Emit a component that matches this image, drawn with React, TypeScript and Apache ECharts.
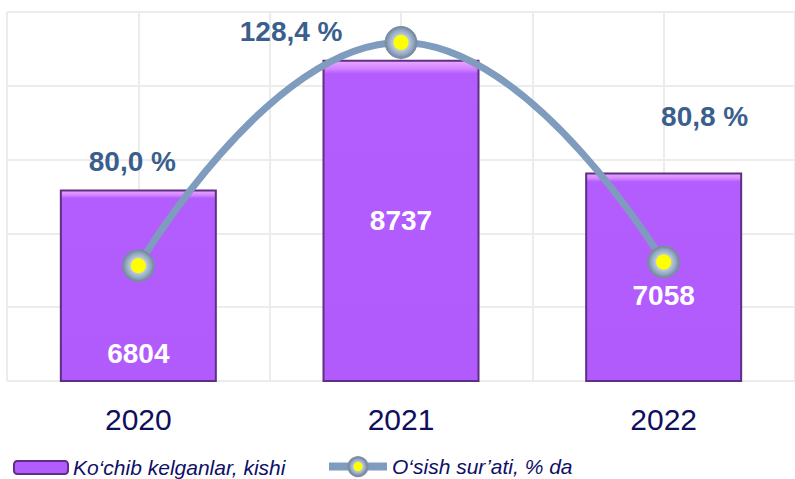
import React, { useEffect, useRef } from "react";
import * as echarts from "echarts";

const years = ["2020", "2021", "2022"];
const arrivals = [6804, 8737, 7058];
const growth = [80.0, 128.4, 80.8];
const barName = "Ko‘chib kelganlar, kishi";
const lineName = "O‘sish sur’ati, % da";

// label placement tweaks (not data)
const growthLabelLayout = [
  { position: "top", offset: [-6, -69] },
  { position: "left", offset: [-37, -11] },
  { position: "top", offset: [41, -110] },
];
const barLabelLayout = [
  { position: "insideBottom", offset: [0, -10] },
  { position: "inside", offset: [0, 0] },
  { position: "insideBottom", offset: [0, -68] },
];

const fmtPct = (v: number) => v.toFixed(1).replace(".", ",") + " %";

export default function App() {
  const ref = useRef<HTMLDivElement>(null);
  useEffect(() => {
    document.body.style.margin = "0";
    const chart = echarts.init(ref.current!, null, { renderer: "svg" });
    const font = "'Liberation Sans', Arial, sans-serif";
    const markerColor = new echarts.graphic.RadialGradient(0.5, 0.5, 0.5, [
      { offset: 0, color: "#ffff00" },
      { offset: 0.44, color: "#ffff00" },
      { offset: 0.5, color: "#b9c9dc" },
      { offset: 0.8, color: "#8ea3bd" },
      { offset: 1, color: "#6f829a" },
    ]);
    const barColor = new echarts.graphic.LinearGradient(0, 0, 0, 1, [
      { offset: 0, color: "#eaa8ff" },
      { offset: 0.025, color: "#d384ff" },
      { offset: 0.04, color: "#b35dff" },
      { offset: 1, color: "#b15bfd" },
    ]);
    const legendText = { fontSize: 21, fontStyle: "italic", color: "#0f0f66", fontFamily: font };
    chart.setOption({
      animation: false,
      backgroundColor: "#ffffff",
      textStyle: { fontFamily: font },
      grid: { left: 7, right: -4, top: 12, bottom: 98, containLabel: false },
      legend: [
        {
          left: 8,
          top: 452,
          itemWidth: 54,
          itemHeight: 13,
          textStyle: legendText,
          data: [barName],
        },
        {
          left: 320,
          top: 451,
          itemWidth: 58,
          itemHeight: 24,
          textStyle: legendText,
          lineStyle: { width: 8, color: "#7f9cbf" },
          data: [lineName],
        },
      ],
      xAxis: [
        {
          type: "category",
          data: years,
          axisLine: { show: false },
          axisTick: { show: false },
          splitLine: { show: false },
          axisLabel: { fontSize: 30, color: "#0f0f5e", margin: 23, fontFamily: font },
        },
        {
          type: "value",
          min: 0,
          max: 6,
          interval: 1,
          position: "top",
          axisLine: { show: false },
          axisTick: { show: false },
          axisLabel: { show: false },
          splitLine: { show: true, lineStyle: { color: "#ececec", width: 2 } },
        },
      ],
      yAxis: [
        { type: "value", min: 3950, max: 9450, show: false, splitLine: { show: false } },
        { type: "value", min: 55, max: 135, show: false, splitLine: { show: false } },
        {
          type: "value",
          min: 0,
          max: 5,
          interval: 1,
          axisLine: { show: false },
          axisTick: { show: false },
          axisLabel: { show: false },
          splitLine: { show: true, lineStyle: { color: "#ececec", width: 2 } },
        },
      ],
      series: [
        {
          name: barName,
          type: "bar",
          xAxisIndex: 0,
          yAxisIndex: 0,
          data: arrivals.map((v, i) => ({
            value: v,
            label: { position: barLabelLayout[i].position, offset: barLabelLayout[i].offset },
          })),
          barWidth: 157,
          itemStyle: { color: barColor, borderColor: "#5e2f82", borderWidth: 2 },
          label: {
            show: true,
            color: "#ffffff",
            fontSize: 28,
            fontWeight: "bold",
            fontFamily: font,
          },
          z: 2,
        },
        {
          name: lineName,
          type: "line",
          xAxisIndex: 0,
          yAxisIndex: 1,
          smooth: true,
          data: growth.map((v, i) => ({
            value: v,
            label: { position: growthLabelLayout[i].position, offset: growthLabelLayout[i].offset },
          })),
          symbol: "circle",
          symbolSize: 32,
          lineStyle: { color: "#7f9cbf", width: 7 },
          itemStyle: { color: markerColor, borderColor: "#7d8ea3", borderWidth: 1 },
          label: {
            show: true,
            color: "#3a5f8d",
            fontSize: 28,
            fontWeight: "bold",
            fontFamily: font,
            formatter: (p: any) => fmtPct(p.value),
          },
          z: 5,
        },
      ],
    });
    return () => chart.dispose();
  }, []);
  return (
    <div ref={ref} style={{ position: "absolute", left: 0, top: 0, width: 795, height: 479 }} />
  );
}
